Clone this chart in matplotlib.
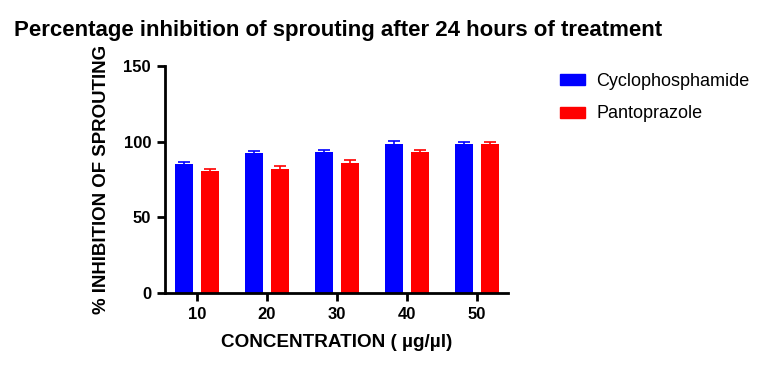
import numpy as np
import matplotlib.pyplot as plt
from matplotlib.patches import Patch

plt.rcParams['font.family'] = ['Liberation Sans', 'DejaVu Sans']

concentrations = ['10', '20', '30', '40', '50']
cyclo = [85.3, 92.5, 93.2, 98.5, 98.5]
cyclo_err = [1.5, 1.1, 1.5, 1.7, 1.3]
panto = [80.6, 82.0, 86.0, 93.2, 98.5]
panto_err = [1.2, 1.7, 1.7, 1.0, 1.1]

fig = plt.figure(figsize=(7.62, 3.67), dpi=100)
ax = fig.add_axes([0.2165, 0.2016, 0.4502, 0.6184])

x = np.arange(len(concentrations))
w = 0.257
off = 0.186
ax.bar(x - off, cyclo, w, color='#0000ff', yerr=cyclo_err,
       error_kw=dict(ecolor='#0000ff', capsize=4, elinewidth=1.2, capthick=1.2))
ax.bar(x + off, panto, w, color='#ff0000', yerr=panto_err,
       error_kw=dict(ecolor='#ff0000', capsize=4, elinewidth=1.2, capthick=1.2))

ax.set_xlim(-0.457, 4.44)
ax.set_ylim(0, 150)
ax.set_yticks([0, 50, 100, 150])
ax.set_xticks(x)
ax.set_xticklabels(concentrations)

for s in ['top', 'right']:
    ax.spines[s].set_visible(False)
for s in ['left', 'bottom']:
    ax.spines[s].set_linewidth(2)
ax.tick_params(width=2, length=6, labelsize=12, pad=4)
for lab in ax.get_xticklabels() + ax.get_yticklabels():
    lab.set_fontweight('bold')

ax.set_xlabel('CONCENTRATION ( µg/µl)', fontsize=13.6, fontweight='bold', labelpad=9)
ax.set_ylabel('% INHIBITION OF SPROUTING', fontsize=13.4, fontweight='bold', labelpad=10)

fig.text(0.018, 0.918, 'Percentage inhibition of sprouting after 24 hours of treatment',
         fontsize=16, fontweight='bold', va='center', ha='left')

handles = [Patch(color='#0000ff', label='Cyclophosphamide'),
           Patch(color='#ff0000', label='Pantoprazole')]
fig.legend(handles=handles, loc='upper left', bbox_to_anchor=(0.713, 0.845),
           frameon=False, fontsize=13, handlelength=1.4, handleheight=0.55,
           handletextpad=0.65, labelspacing=0.85)

fig.savefig('out.png', dpi=100)
